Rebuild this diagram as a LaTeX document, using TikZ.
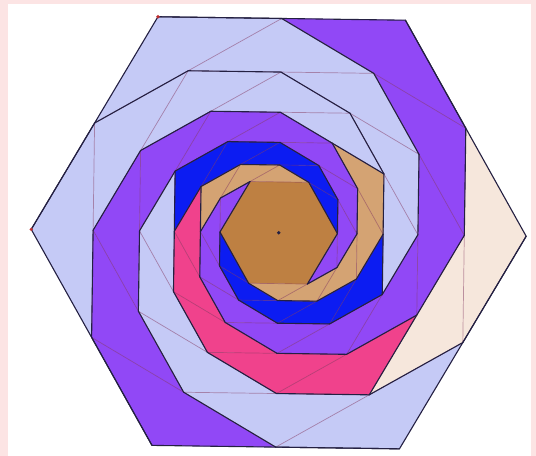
\documentclass[tikz,border=0pt]{standalone}
\usetikzlibrary{calc}
\definecolor{lav}{RGB}{197,202,246}
\definecolor{pur}{RGB}{145,72,246}
\definecolor{blu}{RGB}{12,28,242}
\definecolor{pnk}{RGB}{240,66,140}
\definecolor{bei}{RGB}{246,231,220}
\definecolor{tanc}{RGB}{212,163,115}
\definecolor{brn}{RGB}{190,128,66}
\definecolor{framec}{RGB}{252,228,228}
\definecolor{darkl}{RGB}{36,32,66}
\definecolor{faintc}{RGB}{130,55,95}
\definecolor{reddot}{RGB}{190,45,45}
\newcommand\Rz{247.5}
\newcommand\rotoff{0.8}
\newcommand\HP[2]{($(O)+({#2-\rotoff}:{\Rz*pow(0.8660254,#1)})$)}
\newcommand\getcol[2]{%
  \ifcase#1 \ifnum#2<5 \def\tc{lav}\else\def\tc{tanc}\fi
  \or \def\tc{pur}%
  \or \ifnum#2<5 \def\tc{lav}\else\def\tc{blu}\fi
  \or \ifnum#2<2 \def\tc{bei}\else\ifnum#2<7 \def\tc{pnk}\else\def\tc{tanc}\fi\fi
  \or \def\tc{pur}%
  \or \ifnum#2<5 \def\tc{lav}\else\def\tc{blu}\fi
  \fi}
\tikzset{
  dk/.style={draw=darkl, line width=1.1bp, line cap=round, line join=round},
  fl/.style={draw=faintc, draw opacity=0.5, line width=0.7bp},
}
\begin{document}
\begin{tikzpicture}[x=1bp,y=1bp]
\useasboundingbox (0,0) rectangle (536,456);
\fill[framec] (0,0) rectangle (536,456);
\fill[white] (7.5,0) rectangle (531,452);
\coordinate (O) at (278.7,223.2);
% triangles between successive hexagons
\foreach \k in {0,...,9}{
  \foreach \m in {0,...,5}{
    \getcol{\m}{\k}
    \pgfmathsetmacro\ph{180-30*\k+60*\m}
    \pgfmathtruncatemacro\kk{\k+1}
    \filldraw[fill=\tc, draw=\tc, line width=0.3bp, line join=round]
      \HP{\k}{\ph} -- \HP{\kk}{\ph+30} -- \HP{\kk}{\ph-30} -- cycle;
  }
}
% central hexagon
\fill[brn] \HP{10}{180} -- \HP{10}{120} -- \HP{10}{60} -- \HP{10}{0} -- \HP{10}{-60} -- \HP{10}{-120} -- cycle;
% faint hexagons
\foreach \k in {1,...,10}{
  \pgfmathsetmacro\pb{180-30*\k}
  \draw[fl] \HP{\k}{\pb} -- \HP{\k}{\pb+60} -- \HP{\k}{\pb+120} -- \HP{\k}{\pb+180} -- \HP{\k}{\pb+240} -- \HP{\k}{\pb+300} -- cycle;
}
% spiral arms
\foreach \k in {0,...,9}{
  \foreach \m in {0,...,5}{
    \pgfmathsetmacro\ph{180-30*\k+60*\m}
    \pgfmathtruncatemacro\kk{\k+1}
    \draw[dk] \HP{\k}{\ph} -- \HP{\kk}{\ph-30};
  }
}
% colour changes along the arms
\draw[dk] \HP{5}{30} -- \HP{6}{60};
\draw[dk] \HP{5}{150} -- \HP{6}{180};
\draw[dk] \HP{2}{-60} -- \HP{3}{-30};
\draw[dk] \HP{7}{150} -- \HP{8}{180};
\draw[dk] \HP{5}{-30} -- \HP{6}{0};
% central hexagon borders
\draw[dk] \HP{10}{-120} -- \HP{10}{180} -- \HP{10}{120};
\draw[dk] \HP{10}{60} -- \HP{10}{0} -- \HP{10}{-60};
% outer hexagon
\draw[dk] \HP{0}{180} -- \HP{0}{120} -- \HP{0}{60} -- \HP{0}{0} -- \HP{0}{-60} -- \HP{0}{-120} -- cycle;
% points
\fill[darkl] (O) circle (1.9);
\fill[reddot] \HP{0}{120} circle (1.8);
\fill[reddot] \HP{0}{180} circle (1.8);
\end{tikzpicture}
\end{document}
